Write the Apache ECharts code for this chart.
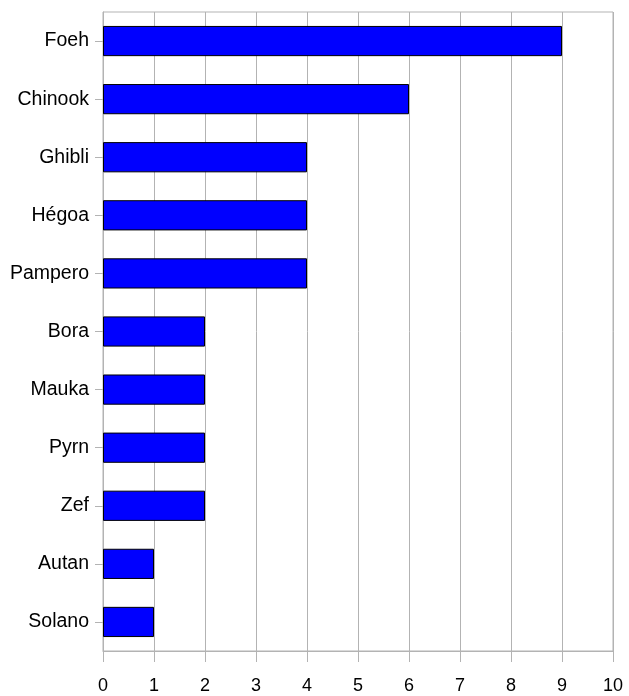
<!DOCTYPE html>
<html>
<head>
<meta charset="utf-8">
<script src="https://cdn.jsdelivr.net/npm/echarts@6/dist/echarts.min.js"></script>
<style>
  html, body { margin: 0; padding: 0; background: #fff; }
  #chart { width: 629px; height: 696px; }
</style>
</head>
<body>
<div id="chart"></div>
<script>
  // winds, top to bottom
  var categories = ['Foeh', 'Chinook', 'Ghibli', 'Hégoa', 'Pampero', 'Bora', 'Mauka', 'Pyrn', 'Zef', 'Autan', 'Solano'];
  var values = [9, 6, 4, 4, 4, 2, 2, 2, 2, 1, 1];
  var xTicks = [0, 1, 2, 3, 4, 5, 6, 7, 8, 9, 10];

  var chart = echarts.init(document.getElementById('chart'));
  var option = {
    backgroundColor: '#ffffff',
    animation: false,
    grid: {
      left: 103,
      right: 16,
      top: 12,
      bottom: 45,
      outerBoundsMode: 'none',
      containLabel: false,
      show: true,
      borderColor: '#b3b3b3',
      borderWidth: 1
    },
    xAxis: {
      type: 'value',
      min: xTicks[0],
      max: xTicks[xTicks.length - 1],
      interval: 1,
      axisLine: {show: true, lineStyle: {color: '#b3b3b3'}},
      axisTick: {show: true, length: 11, lineStyle: {color: '#b3b3b3'}},
      splitLine: {show: true, lineStyle: {color: '#b3b3b3'}},
      axisLabel: {
        color: '#000',
        fontFamily: 'Liberation Sans',
        fontSize: 18,
        margin: 26
      }
    },
    yAxis: {
      type: 'category',
      inverse: true,
      data: categories,
      axisLine: {show: true, lineStyle: {color: '#b3b3b3'}},
      axisTick: {show: true, length: 8, alignWithLabel: true, lineStyle: {color: '#b3b3b3'}},
      splitLine: {show: false},
      axisLabel: {
        color: '#000',
        fontFamily: 'Liberation Sans',
        fontSize: 19.5,
        margin: 14
      }
    },
    series: [
      {
        type: 'bar',
        data: values,
        barWidth: '52%',
        itemStyle: {
          color: '#0000ff',
          borderColor: '#000000',
          borderWidth: 1
        }
      }
    ]
  };
  chart.setOption(option);
</script>
</body>
</html>
